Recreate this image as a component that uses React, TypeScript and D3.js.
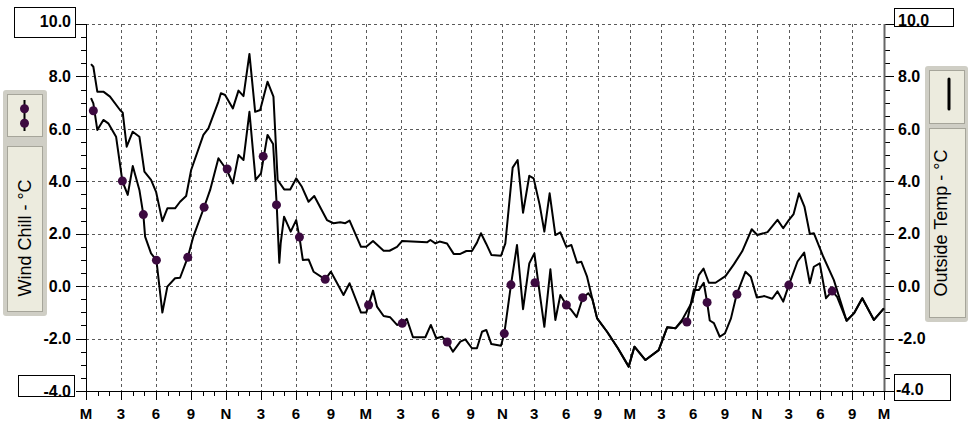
import * as d3 from 'd3';
import React from 'react';

// hour (from midnight of day 1), value in °C
const OUTSIDE_TEMP: [number, number][] = [
  [0.43, 8.47], [0.63, 8.37], [0.97, 7.42], [1.49, 7.42], [2.06, 7.23], [2.92, 6.72], [3.15, 6.62],
  [3.49, 5.32], [4.01, 5.89], [4.58, 5.7], [5.01, 4.37], [5.58, 4.05], [6.01, 3.6], [6.55, 2.48],
  [6.98, 2.97], [7.64, 2.97], [8.07, 3.22], [8.59, 3.44], [9.02, 4.43], [10.07, 5.77], [10.5, 6.02],
  [11.36, 7.04], [11.57, 7.36], [11.93, 7.29], [12.6, 6.78], [13.08, 7.46], [13.51, 7.25], [14.02, 8.86],
  [14.51, 6.65], [14.94, 6.72], [15.57, 7.8], [16.08, 7.23], [16.44, 4.05], [17.0, 3.69], [17.52, 3.69],
  [18.03, 4.11], [18.52, 3.79], [19.09, 3.22], [19.58, 3.44], [20.67, 2.52], [21.23, 2.4], [21.81, 2.44],
  [22.24, 2.4], [22.61, 2.5], [23.59, 1.5], [24.04, 1.5], [24.62, 1.72], [25.53, 1.35], [26.04, 1.35],
  [26.68, 1.5], [27.11, 1.72], [29.25, 1.67], [29.54, 1.76], [29.97, 1.63], [30.33, 1.7], [30.97, 1.63],
  [31.54, 1.23], [32.11, 1.23], [32.63, 1.34], [33.12, 1.34], [33.59, 1.66], [33.97, 2.02], [34.47, 1.61],
  [34.95, 1.19], [35.86, 1.16], [36.27, 1.63], [36.96, 4.52], [37.43, 4.81], [37.94, 2.8], [38.53, 4.21],
  [38.94, 4.11], [39.51, 3.1], [39.95, 2.08], [40.45, 3.54], [40.99, 1.95], [41.46, 2.05], [42.03, 1.5],
  [42.5, 1.57], [43.04, 0.89], [43.44, 0.93], [43.98, 0.36], [44.48, -0.49], [44.93, -1.23], [45.87, -1.74],
  [46.89, -2.37], [47.91, -3.07], [48.45, -2.31], [49.49, -2.82], [50.74, -2.44], [51.54, -1.57],
  [52.32, -1.61], [52.95, -1.29], [53.9, -0.59], [54.52, 0.42], [54.97, 0.67], [55.47, 0.13], [56.1, 0.13],
  [57.04, 0.38], [57.83, 0.83], [58.62, 1.33], [59.52, 2.17], [60.04, 1.95], [61.01, 2.06], [61.95, 2.53],
  [62.49, 2.21], [63.02, 2.52], [63.47, 2.75], [63.98, 3.54], [64.5, 3.02], [65.0, 1.99], [65.38, 2.02],
  [66.27, 1.12], [67.27, 0.23], [68.47, -1.32], [69.16, -1.04], [69.95, -0.46], [71.05, -1.29], [71.99, -0.85],
];

const WIND_CHILL: [number, number][] = [
  [0.43, 7.17], [0.63, 6.97], [0.97, 5.96], [1.49, 6.34], [1.91, 6.21], [2.58, 5.7], [3.12, 4.01],
  [3.58, 3.48], [4.01, 4.58], [4.58, 3.67], [4.92, 2.73], [5.07, 1.89], [5.58, 1.25], [6.04, 0.99],
  [6.55, -1.01], [6.98, -0.02], [7.64, 0.3], [8.07, 0.32], [8.73, 1.1], [9.21, 1.89], [10.13, 3.01],
  [10.65, 3.67], [11.36, 4.88], [12.08, 4.43], [12.6, 3.92], [13.08, 5.0], [13.51, 4.81], [14.02, 6.65],
  [14.55, 4.05], [15.01, 4.3], [15.57, 5.77], [16.05, 5.42], [16.36, 3.1], [16.58, 0.89], [16.7, 1.63],
  [16.99, 2.65], [17.56, 2.08], [18.03, 2.52], [18.31, 1.87], [18.6, 1.0], [19.09, 1.02], [19.52, 0.55],
  [20.52, 0.26], [21.01, 0.55], [22.09, -0.34], [22.61, 0.11], [23.59, -1.01], [24.04, -1.01],
  [24.62, -0.17], [24.96, -0.78], [25.53, -1.14], [26.1, -1.19], [26.68, -1.48], [27.13, -1.41],
  [27.52, -1.25], [28.05, -1.95], [29.11, -1.95], [29.58, -1.48], [30.05, -1.99], [30.54, -1.93],
  [30.99, -2.13], [31.48, -2.5], [32.11, -2.12], [32.54, -2.03], [33.12, -2.37], [33.59, -2.37],
  [34.07, -1.74], [34.47, -1.67], [34.95, -2.21], [35.86, -2.27], [36.17, -1.81], [36.8, 0.05],
  [37.37, 1.57], [37.94, -0.88], [38.53, 0.87], [39.01, 1.25], [39.51, -0.27], [39.95, -1.55],
  [40.52, 0.64], [40.99, -1.29], [41.46, -0.34], [42.03, -0.72], [42.45, -0.89], [43.0, -1.18],
  [43.57, -0.44], [44.1, -0.27], [44.48, -0.49], [44.93, -1.23], [45.87, -1.74], [46.89, -2.37],
  [47.91, -3.07], [48.45, -2.31], [49.49, -2.82], [50.74, -2.44], [51.54, -1.57], [52.32, -1.61],
  [52.95, -1.33], [53.4, -1.37], [54.05, -0.15], [54.52, -0.15], [54.99, 0.13], [55.31, -0.62],
  [55.56, -1.31], [55.95, -1.41], [56.5, -1.93], [56.99, -1.8], [57.56, -1.23], [58.1, -0.31],
  [58.93, 0.55], [59.43, 0.36], [60.0, -0.43], [60.72, -0.38], [61.45, -0.48], [61.95, -0.2],
  [62.49, -0.59], [63.02, 0.04], [63.84, 0.94], [64.47, 1.28], [65.0, 0.11], [65.38, 0.74], [65.94, 0.87],
  [66.53, -0.46], [67.11, -0.19], [67.58, -0.41], [68.47, -1.32], [69.16, -1.04], [69.95, -0.46],
  [71.05, -1.29], [71.99, -0.85],
];

const WIND_CHILL_MARKERS: [number, number][] = [
  [0.63, 6.69], [3.12, 4.01], [4.92, 2.73], [6.04, 0.99], [8.73, 1.1], [10.13, 3.01], [12.11, 4.47],
  [15.2, 4.95], [16.34, 3.1], [18.31, 1.87], [20.52, 0.26], [24.24, -0.72], [27.13, -1.42], [30.99, -2.13],
  [36.17, -1.81], [36.8, 0.05], [39.07, 0.13], [42.03, -0.72], [43.57, -0.44], [53.4, -1.37],
  [55.31, -0.62], [58.12, -0.31], [63.02, 0.04], [67.11, -0.19],
];

const TICK_LABELS = ['M', '3', '6', '9', 'N', '3', '6', '9', 'M', '3', '6', '9', 'N', '3', '6', '9', 'M', '3', '6', '9', 'N', '3', '6', '9', 'M'];
// records logged in each 3-hour step (the axis is spaced by record, not by time)
const SAMPLES_PER_STEP = [11, 11, 11, 11, 11, 11, 11, 11, 11, 11, 11, 10, 10, 10, 10, 10, 10, 10, 10, 10, 10, 10, 10, 10];
const Y_TICKS = [-4, -2, 0, 2, 4, 6, 8, 10];

const WIDTH = 968;
const HEIGHT = 421;
const margin = { top: 24, right: 84, bottom: 30, left: 86 };
const FONT = "'Liberation Sans', Arial, sans-serif";

export default function App() {
  const x0 = margin.left;
  const x1 = WIDTH - margin.right;
  const yTop = margin.top;
  const yBottom = HEIGHT - margin.bottom;

  const hourTicks = TICK_LABELS.map((_, i) => i * 3);
  const cum = [0, ...Array.from(d3.cumsum(SAMPLES_PER_STEP))];
  const sampleX = d3.scaleLinear().domain([0, d3.sum(SAMPLES_PER_STEP)]).range([x0, x1]);
  const x = d3.scaleLinear().domain(hourTicks).range(cum.map((c) => sampleX(c)));
  const y = d3.scaleLinear().domain([-4, 10]).range([yBottom, yTop]);

  const line = d3
    .line<[number, number]>()
    .x((d) => x(d[0]))
    .y((d) => y(d[1]));

  const minorHours = d3.range(0, 73).filter((h) => h % 3 !== 0);
  const minorY = d3.range(-4, 10.01, 0.5).filter((v) => Math.abs(v % 2) > 0.01);
  const px = (v: number) => Math.round(v) + 0.5;

  const labelStyle = { fontFamily: FONT, fontSize: 16, fontWeight: 700, fill: '#000' } as const;
  const xLabelStyle = { ...labelStyle, fontSize: 15 } as const;

  return (
    <div style={{ position: 'fixed', left: 0, top: 0 }}>
      <svg width={WIDTH} height={HEIGHT} style={{ display: 'block', background: '#fff' }}>
        {/* grid */}
        <g stroke="#5a5a5a" strokeWidth={1} strokeDasharray="3,3" shapeRendering="crispEdges">
          {Y_TICKS.filter((v) => v > -4).map((v) => (
            <line key={'gy' + v} x1={x0} x2={x1} y1={px(y(v))} y2={px(y(v))} />
          ))}
          {hourTicks.slice(1, -1).map((h) => (
            <line key={'gx' + h} x1={px(x(h))} x2={px(x(h))} y1={yTop} y2={yBottom} />
          ))}
        </g>

        {/* axes */}
        <g stroke="#000" strokeWidth={1} shapeRendering="crispEdges">
          <line x1={x0 + 0.5} x2={x0 + 0.5} y1={yTop} y2={yBottom} />
          <line x1={x0} x2={x1 + 1} y1={yBottom + 0.5} y2={yBottom + 0.5} />
          {Y_TICKS.map((v) => (
            <g key={'ty' + v}>
              <line x1={x0 - 10} x2={x0} y1={px(y(v))} y2={px(y(v))} />
              <line x1={x1} x2={x1 + 10} y1={px(y(v))} y2={px(y(v))} />
            </g>
          ))}
          {minorY.map((v) => (
            <g key={'my' + v}>
              <line x1={x0 - 5} x2={x0} y1={px(y(v))} y2={px(y(v))} />
              <line x1={x1} x2={x1 + 6} y1={px(y(v))} y2={px(y(v))} />
            </g>
          ))}
          {hourTicks.map((h) => (
            <line key={'tx' + h} x1={px(x(h))} x2={px(x(h))} y1={yBottom} y2={yBottom + 9} />
          ))}
          {minorHours.map((h) => (
            <line key={'mx' + h} x1={px(x(h))} x2={px(x(h))} y1={yBottom} y2={yBottom + 5} />
          ))}
        </g>
        <line x1={x1 + 0.5} x2={x1 + 0.5} y1={yTop} y2={yBottom} stroke="#666" strokeWidth={2} />

        {/* end-value boxes */}
        <g fill="#fff" stroke="#000" strokeWidth={1} shapeRendering="crispEdges">
          <rect x={14.5} y={7.5} width={61} height={30} />
          <rect x={18.5} y={375.5} width={56} height={21} />
          <rect x={894.5} y={8.5} width={59} height={18} />
          <rect x={894.5} y={374.5} width={56} height={26} />
        </g>

        {/* y labels */}
        {Y_TICKS.map((v) => (
          <text key={'ly' + v} x={71} y={y(v) - (v === 10 ? 3 : 0)} dy="0.36em" textAnchor="end" style={labelStyle}>
            {v.toFixed(1)}
          </text>
        ))}
        {Y_TICKS.map((v) => (
          <text key={'ry' + v} x={v === -4 ? 896 : 898} y={y(v) - (v === 10 ? 4 : v === -4 ? 2 : 0)} dy="0.36em" textAnchor="start" style={labelStyle}>
            {v.toFixed(1)}
          </text>
        ))}

        {/* x labels */}
        {TICK_LABELS.map((t, i) => (
          <text key={'lx' + i} x={x(hourTicks[i])} y={419} textAnchor="middle" style={xLabelStyle}>
            {t}
          </text>
        ))}

        {/* series */}
        <path d={line(OUTSIDE_TEMP) ?? ''} fill="none" stroke="#000" strokeWidth={2} strokeLinejoin="round" />
        <path d={line(WIND_CHILL) ?? ''} fill="none" stroke="#000" strokeWidth={2} strokeLinejoin="round" />
        {WIND_CHILL_MARKERS.map((d, i) => (
          <circle key={'m' + i} cx={x(d[0])} cy={y(d[1])} r={4.5} fill="#3c0a40" />
        ))}

        {/* left legend */}
        <rect x={3} y={90} width={44} height={226} fill="#cfcec5" rx={3} />
        <rect x={7.5} y={94.5} width={35} height={42} fill="#ecebde" stroke="#a6a59a" />
        <line x1={24.5} x2={24.5} y1={100} y2={131} stroke="#000" strokeWidth={2} />
        <circle cx={24.5} cy={108.7} r={4.5} fill="#3c0a40" />
        <circle cx={24.5} cy={123.3} r={4.5} fill="#3c0a40" />
        <rect x={7.5} y={146.5} width={35} height={165} fill="#ecebde" stroke="#a6a59a" />
        <text
          transform={`translate(31,${238}) rotate(-90)`}
          textAnchor="middle"
          style={{ fontFamily: FONT, fontSize: 18, fill: '#000' }}
        >
          Wind Chill - °C
        </text>

        {/* right legend */}
        <rect x={925} y={66} width={43} height={256} fill="#cfcec5" rx={3} />
        <rect x={929.5} y={70.5} width={35} height={53} fill="#ecebde" stroke="#a6a59a" />
        <line x1={949} x2={949} y1={79} y2={109} stroke="#000" strokeWidth={3} strokeLinecap="round" />
        <rect x={929.5} y={128.5} width={36} height={189} fill="#ecebde" stroke="#a6a59a" />
        <text
          transform={`translate(947,${223}) rotate(-90)`}
          textAnchor="middle"
          style={{ fontFamily: FONT, fontSize: 18, fill: '#000' }}
        >
          Outside Temp - °C
        </text>
      </svg>
    </div>
  );
}
